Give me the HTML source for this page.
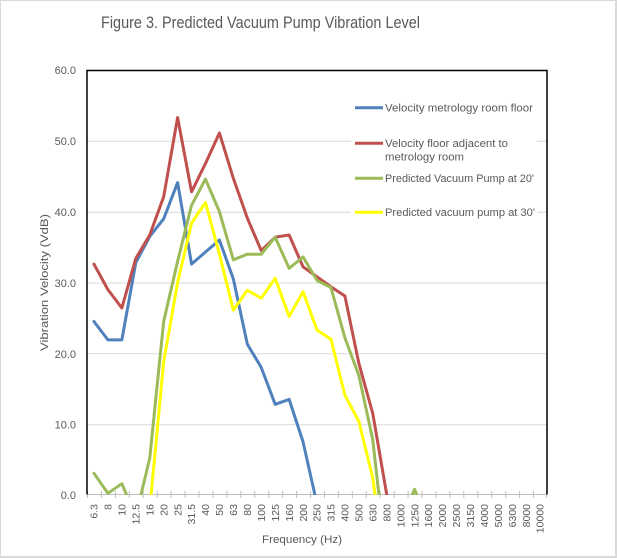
<!DOCTYPE html>
<html><head><meta charset="utf-8"><style>
html,body{margin:0;padding:0;background:#fff;overflow:hidden;}
svg{display:block;}
text{font-family:"Liberation Sans",Arial,sans-serif;fill:#595959;}
</style></head><body>
<svg width="617" height="558" viewBox="0 0 617 558" xmlns="http://www.w3.org/2000/svg">
<rect x="0" y="0" width="617" height="558" fill="#fff"/>
<rect x="0.5" y="0.5" width="615" height="556" fill="none" stroke="#d9d9d9" stroke-width="1"/>
<line x1="616" y1="0" x2="616" y2="558" stroke="#d9d9d9" stroke-width="2"/>
<line x1="0" y1="557" x2="617" y2="557" stroke="#d9d9d9" stroke-width="2"/>

<text x="101" y="28" font-size="16.5" textLength="319" lengthAdjust="spacingAndGlyphs">Figure 3.  Predicted Vacuum Pump Vibration Level</text>

<!-- gridlines -->
<g stroke="#d9d9d9" stroke-width="1">
<line x1="87" y1="141.3" x2="547" y2="141.3"/>
<line x1="87" y1="212.2" x2="547" y2="212.2"/>
<line x1="87" y1="283" x2="547" y2="283"/>
<line x1="87" y1="353.8" x2="547" y2="353.8"/>
<line x1="87" y1="424.7" x2="547" y2="424.7"/>
</g>

<!-- y labels -->
<g font-size="11" text-anchor="end">
<text x="76" y="74">60.0</text>
<text x="76" y="145">50.0</text>
<text x="76" y="216">40.0</text>
<text x="76" y="287">30.0</text>
<text x="76" y="358">20.0</text>
<text x="76" y="428.5">10.0</text>
<text x="76" y="499">0.0</text>
</g>
<text transform="translate(48,282.5) rotate(-90)" font-size="11" text-anchor="middle" textLength="137" lengthAdjust="spacingAndGlyphs">Vibration Velocity (VdB)</text>

<!-- axis ticks -->
<g stroke="#bfbfbf" stroke-width="1">
<line x1="87" y1="494.5" x2="547" y2="494.5"/>
<line x1="87.5" y1="491" x2="87.5" y2="498"/><line x1="101.4" y1="491" x2="101.4" y2="498"/><line x1="115.4" y1="491" x2="115.4" y2="498"/><line x1="129.3" y1="491" x2="129.3" y2="498"/><line x1="143.2" y1="491" x2="143.2" y2="498"/><line x1="157.2" y1="491" x2="157.2" y2="498"/><line x1="171.1" y1="491" x2="171.1" y2="498"/><line x1="185.1" y1="491" x2="185.1" y2="498"/><line x1="199" y1="491" x2="199" y2="498"/><line x1="212.9" y1="491" x2="212.9" y2="498"/><line x1="226.9" y1="491" x2="226.9" y2="498"/><line x1="240.8" y1="491" x2="240.8" y2="498"/><line x1="254.8" y1="491" x2="254.8" y2="498"/><line x1="268.7" y1="491" x2="268.7" y2="498"/><line x1="282.6" y1="491" x2="282.6" y2="498"/><line x1="296.6" y1="491" x2="296.6" y2="498"/><line x1="310.5" y1="491" x2="310.5" y2="498"/><line x1="324.5" y1="491" x2="324.5" y2="498"/><line x1="338.4" y1="491" x2="338.4" y2="498"/><line x1="352.3" y1="491" x2="352.3" y2="498"/><line x1="366.3" y1="491" x2="366.3" y2="498"/><line x1="380.2" y1="491" x2="380.2" y2="498"/><line x1="394.2" y1="491" x2="394.2" y2="498"/><line x1="408.1" y1="491" x2="408.1" y2="498"/><line x1="422" y1="491" x2="422" y2="498"/><line x1="436" y1="491" x2="436" y2="498"/><line x1="449.9" y1="491" x2="449.9" y2="498"/><line x1="463.8" y1="491" x2="463.8" y2="498"/><line x1="477.8" y1="491" x2="477.8" y2="498"/><line x1="491.7" y1="491" x2="491.7" y2="498"/><line x1="505.7" y1="491" x2="505.7" y2="498"/><line x1="519.6" y1="491" x2="519.6" y2="498"/><line x1="533.5" y1="491" x2="533.5" y2="498"/><line x1="546.5" y1="491" x2="546.5" y2="498"/>
</g>

<!-- x labels -->
<g font-size="10.5" text-anchor="end">
<text transform="translate(97.7,504) rotate(-90)">6.3</text>
<text transform="translate(111.6,504) rotate(-90)">8</text>
<text transform="translate(125.5,504) rotate(-90)">10</text>
<text transform="translate(139.5,504) rotate(-90)">12.5</text>
<text transform="translate(153.4,504) rotate(-90)">16</text>
<text transform="translate(167.4,504) rotate(-90)">20</text>
<text transform="translate(181.3,504) rotate(-90)">25</text>
<text transform="translate(195.2,504) rotate(-90)">31.5</text>
<text transform="translate(209.2,504) rotate(-90)">40</text>
<text transform="translate(223.1,504) rotate(-90)">50</text>
<text transform="translate(237.1,504) rotate(-90)">63</text>
<text transform="translate(251,504) rotate(-90)">80</text>
<text transform="translate(264.9,504) rotate(-90)">100</text>
<text transform="translate(278.9,504) rotate(-90)">125</text>
<text transform="translate(292.8,504) rotate(-90)">160</text>
<text transform="translate(306.8,504) rotate(-90)">200</text>
<text transform="translate(320.7,504) rotate(-90)">250</text>
<text transform="translate(334.6,504) rotate(-90)">315</text>
<text transform="translate(348.6,504) rotate(-90)">400</text>
<text transform="translate(362.5,504) rotate(-90)">500</text>
<text transform="translate(376.5,504) rotate(-90)">630</text>
<text transform="translate(390.4,504) rotate(-90)">800</text>
<text transform="translate(404.3,504) rotate(-90)">1000</text>
<text transform="translate(418.3,504) rotate(-90)">1250</text>
<text transform="translate(432.2,504) rotate(-90)">1600</text>
<text transform="translate(446.2,504) rotate(-90)">2000</text>
<text transform="translate(460.1,504) rotate(-90)">2500</text>
<text transform="translate(474,504) rotate(-90)">3150</text>
<text transform="translate(488,504) rotate(-90)">4000</text>
<text transform="translate(501.9,504) rotate(-90)">5000</text>
<text transform="translate(515.8,504) rotate(-90)">6300</text>
<text transform="translate(529.8,504) rotate(-90)">8000</text>
<text transform="translate(543.7,504) rotate(-90)">10000</text>
</g>
<text x="262" y="543" font-size="11" textLength="80" lengthAdjust="spacingAndGlyphs">Frequency (Hz)</text>

<defs><clipPath id="pc"><rect x="87" y="70" width="460" height="425"/></clipPath></defs>
<g clip-path="url(#pc)" fill="none" stroke-width="3" stroke-linejoin="round" stroke-linecap="round">
<polyline stroke="#4f81bd" points="93.97,321.5 107.91,339.9 121.85,339.9 135.79,262.7 149.73,236.5 163.67,218.8 177.61,182.6 191.55,264.1 205.48,252 219.42,240 233.36,279 247.3,344.1 261.24,367.5 275.18,404.3 289.12,399.4 303.06,441.9 314.94,495"/>
<polyline stroke="#c0504d" points="93.97,264.1 107.91,289.6 121.85,308 135.79,258.4 149.73,235 163.67,196.8 177.61,117.5 191.55,191.8 205.48,163.5 219.42,133 233.36,178.4 247.3,218 261.24,250.6 275.18,237.2 289.12,235 303.06,266.9 317,276.8 330.94,286.7 344.88,296 358.82,363.2 372.76,413.5 386.8,495"/>
<polyline stroke="#9bbb59" points="93.97,473.3 107.91,493.3 121.85,483.7 126.68,495"/>
<polyline stroke="#9bbb59" points="140.9,495 149.73,458.2 163.67,321.5 177.61,261.25 191.55,205.3 205.48,179.1 219.42,211.7 233.36,259.8 247.3,254.2 261.24,254.2 275.18,237.2 289.12,268.3 303.06,257 317,280.4 330.94,287.5 344.88,337.75 358.82,375.3 372.76,439.75 378.97,495"/>
<polyline stroke="#9bbb59" points="412.24,495 414.58,489.3 416.92,495"/>
<polyline stroke="#ffff00" points="151.07,495 163.67,361.8 177.61,282.5 191.55,223 205.48,202.5 219.42,254.2 233.36,310.1 247.3,290.3 261.24,298.1 275.18,278.25 289.12,316.5 303.06,291.7 317,330 330.94,339.2 344.88,395.1 358.82,421.3 372.76,478 375.08,495"/>
</g>

<!-- plot border -->
<polyline points="87,494.5 87,70.5 547,70.5 547,494.5" fill="none" stroke="#000" stroke-width="1.5"/>

<!-- legend -->
<rect x="351" y="95" width="186" height="128" fill="#fff"/>
<g stroke-width="3">
<line x1="355" y1="107.7" x2="383" y2="107.7" stroke="#4f81bd"/>
<line x1="355" y1="143.3" x2="383" y2="143.3" stroke="#c0504d"/>
<line x1="355" y1="178.3" x2="383" y2="178.3" stroke="#9bbb59"/>
<line x1="355" y1="212.3" x2="383" y2="212.3" stroke="#ffff00"/>
</g>
<g font-size="11">
<text x="385" y="111.5" textLength="148" lengthAdjust="spacingAndGlyphs">Velocity metrology room floor</text>
<text x="385" y="147" textLength="123" lengthAdjust="spacingAndGlyphs">Velocity floor adjacent to</text>
<text x="385" y="160.5" textLength="79" lengthAdjust="spacingAndGlyphs">metrology room</text>
<text x="385" y="182" textLength="149" lengthAdjust="spacingAndGlyphs">Predicted Vacuum Pump at 20'</text>
<text x="385" y="216" textLength="150" lengthAdjust="spacingAndGlyphs">Predicted vacuum pump at 30'</text>
</g>
</svg>
</body></html>
